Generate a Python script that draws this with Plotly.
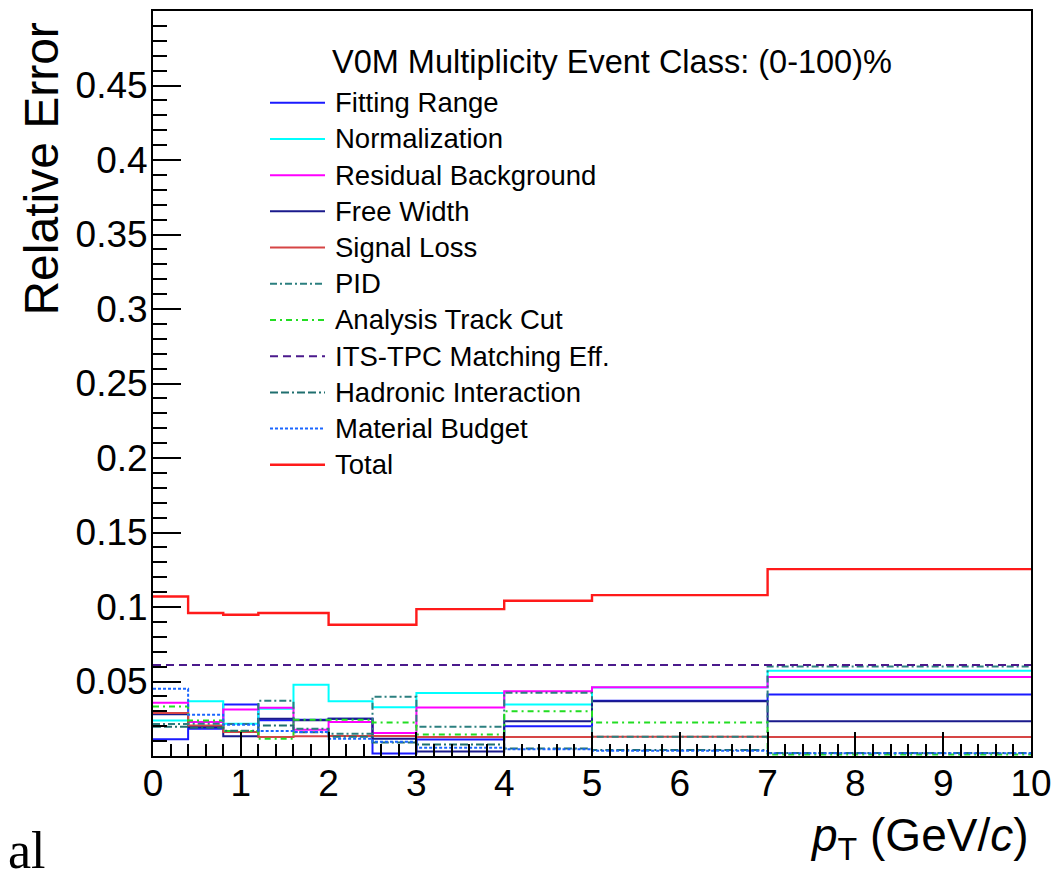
import plotly.graph_objects as go

# pT bin edges (GeV/c)
pt_edges = [0.0, 0.4, 0.8, 1.2, 1.6, 2.0, 2.5, 3.0, 4.0, 5.0, 7.0, 10.0]

# Relative systematic uncertainty per pT bin
fitting_range = [0.0112, 0.0183, 0.0346, 0.0240, 0.0244, 0.0250, 0.0016, 0.0110, 0.0199, 0.0370, 0.0413]
normalization = [0.0239, 0.0368, 0.0217, 0.0317, 0.0478, 0.0368, 0.0328, 0.0422, 0.0346, 0.0460, 0.0572]
residual_bkg = [0.0357, 0.0228, 0.0312, 0.0324, 0.0177, 0.0228, 0.0155, 0.0326, 0.0435, 0.0462, 0.0531]
free_width = [0.0280, 0.0194, 0.0132, 0.0250, 0.0240, 0.0250, 0.0116, 0.0030, 0.0234, 0.0368, 0.0234]
signal_loss = [0.0288, 0.0205, 0.0161, 0.0127, 0.0132, 0.0134, 0.0134, 0.0127, 0.0127, 0.0130, 0.0127]
pid = [0.0215, 0.0217, 0.0215, 0.0370, 0.0183, 0.0150, 0.0398, 0.0196, 0.0424, 0.0130, 0.0600]
track_cut = [0.0333, 0.0239, 0.0167, 0.0116, 0.0244, 0.0244, 0.0224, 0.0145, 0.0301, 0.0224, 0.0010]
its_tpc = [0.061, 0.061, 0.061, 0.061, 0.061, 0.061, 0.061, 0.061, 0.061, 0.061, 0.061]
hadronic = [0.0196, 0.0190, 0.0170, 0.0205, 0.0160, 0.0130, 0.0090, 0.0078, 0.0050, 0.0040, 0.0020]
material = [0.0451, 0.0277, 0.0210, 0.0167, 0.0161, 0.0116, 0.0095, 0.0056, 0.0045, 0.0036, 0.0018]
total = [0.1070, 0.0960, 0.0948, 0.0960, 0.0960, 0.0881, 0.0881, 0.0986, 0.1042, 0.1080, 0.1254]

y_tick_vals = [0.05, 0.10, 0.15, 0.20, 0.25, 0.30, 0.35, 0.40, 0.45]
y_tick_text = ["0.05", "0.1", "0.15", "0.2", "0.25", "0.3", "0.35", "0.4", "0.45"]
x_tick_vals = [0, 1, 2, 3, 4, 5, 6, 7, 8, 9, 10]

series = [
    ("Fitting Range", fitting_range, "#1a1aff", "solid", 2),
    ("Normalization", normalization, "#00ffff", "solid", 2),
    ("Residual Background", residual_bkg, "#ff00ff", "solid", 2),
    ("Free Width", free_width, "#1a1a8c", "solid", 2),
    ("Signal Loss", signal_loss, "#d64545", "solid", 2),
    ("PID", pid, "#2b7f7f", "7px,3px,2px,3px", 2),
    ("Analysis Track Cut", track_cut, "#22dd22", "6px,4px,2px,4px", 2),
    ("ITS-TPC Matching Eff.", its_tpc, "#4b1a8c", "8px,5px", 2),
    ("Hadronic Interaction", hadronic, "#1f6f6f", "8px,3px,8px,3px,2px,3px", 2),
    ("Material Budget", material, "#1a66ff", "3px,2px", 2),
    ("Total", total, "#ff1a1a", "solid", 2.4),
]

W, H = 1064, 874
L, R, T, B = 153, 33, 9, 118
FONT = "Liberation Sans, Arial, Helvetica, sans-serif"


def px_x(px):
    return (px - L) / (W - L - R)


def px_y(py):
    return (H - B - py) / (H - T - B)


fig = go.Figure()
for name, vals, color, dash, width in series:
    fig.add_trace(go.Scatter(
        x=pt_edges, y=vals + [vals[-1]], mode="lines", name=name,
        line=dict(color=color, dash=dash, width=width, shape="hv"),
        showlegend=False, hoverinfo="skip",
    ))

# Legend: header, key lines and labels
annotations = [
    dict(text="V0M Multiplicity Event Class: (0-100)%", x=px_x(330), y=px_y(60),
         xanchor="left", yanchor="middle", showarrow=False,
         font=dict(size=32.5, color="black", family=FONT)),
]
shapes = []
row0, row_step = 101, 36.3
for i, (name, vals, color, dash, width) in enumerate(series):
    yy = px_y(row0 + i * row_step)
    shapes.append(dict(type="line", xref="paper", yref="paper",
                       x0=px_x(270), x1=px_x(325), y0=yy, y1=yy,
                       line=dict(color=color, dash=dash, width=width)))
    annotations.append(dict(text=name, x=px_x(333), y=yy, xanchor="left", yanchor="middle",
                            showarrow=False, font=dict(size=27.5, color="black", family=FONT)))

# Axis titles
annotations.append(dict(text="Relative Error", x=px_x(42), y=px_y(167), textangle=-90,
                        xanchor="center", yanchor="middle", showarrow=False,
                        font=dict(size=48, color="black", family=FONT)))
annotations.append(dict(text="<i>p</i><sub>T</sub> (GeV/<i>c</i>)", x=px_x(1031), y=px_y(838),
                        xanchor="right", yanchor="middle", showarrow=False, height=52,
                        font=dict(size=46, color="black", family=FONT)))
annotations.append(dict(text="al", x=px_x(6), y=px_y(850), xanchor="left", yanchor="middle",
                        showarrow=False, height=44,
                        font=dict(size=52, color="black", family="Liberation Serif, Times New Roman, serif")))

for a in annotations:
    a.setdefault("xref", "paper")
    a.setdefault("yref", "paper")

fig.update_layout(
    width=W, height=H,
    margin=dict(l=L, r=R, t=T, b=B, pad=0),
    paper_bgcolor="white", plot_bgcolor="white",
    showlegend=False,
    annotations=annotations, shapes=shapes,
    font=dict(family=FONT, color="black"),
)
fig.update_xaxes(
    range=[0, 10], showgrid=False, zeroline=False,
    showline=True, linecolor="black", linewidth=2, mirror=True,
    tickmode="array", tickvals=x_tick_vals,
    ticks="inside", ticklen=24, tickwidth=2, tickcolor="black",
    ticklabelstandoff=-6,
    tickfont=dict(size=37, color="black", family=FONT),
    minor=dict(dtick=0.2, ticks="inside", ticklen=12, tickwidth=2, tickcolor="black", showgrid=False),
)
fig.update_yaxes(
    range=[0, 0.5], showgrid=False, zeroline=False,
    showline=True, linecolor="black", linewidth=2, mirror=True,
    tickmode="array", tickvals=y_tick_vals, ticktext=y_tick_text,
    ticks="inside", ticklen=28, tickwidth=2, tickcolor="black",
    ticklabelstandoff=-4,
    tickfont=dict(size=37, color="black", family=FONT),
    minor=dict(dtick=0.01, ticks="inside", ticklen=14, tickwidth=2, tickcolor="black", showgrid=False),
)

fig.write_html("out.html")
